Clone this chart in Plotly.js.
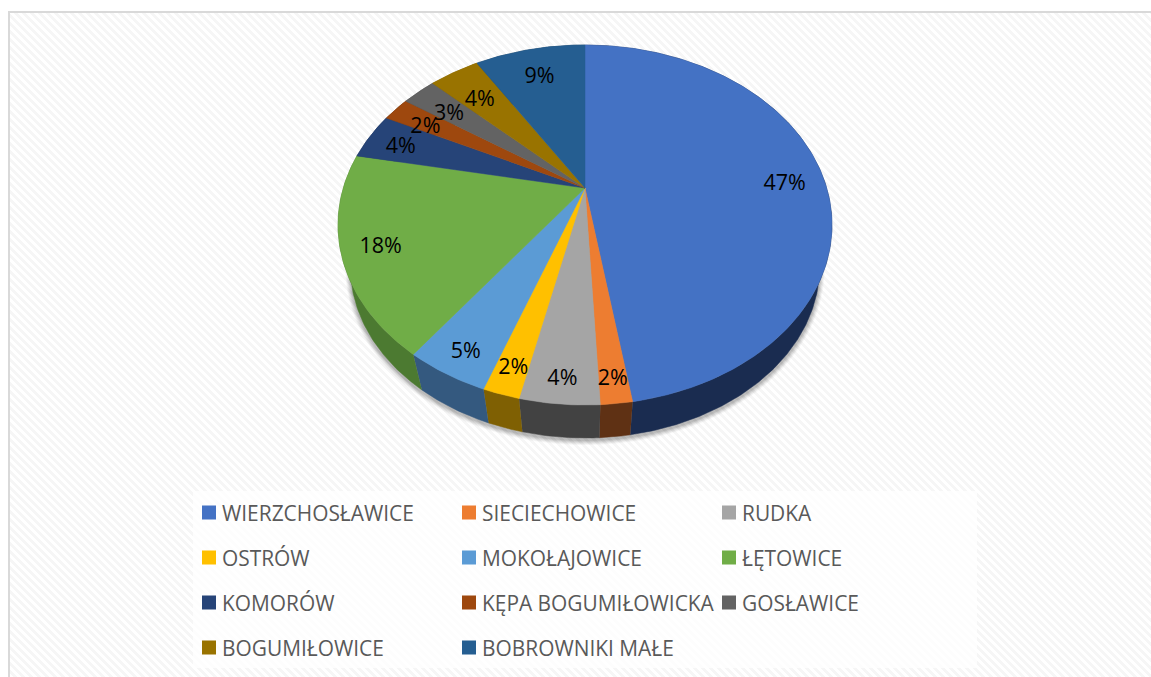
<!DOCTYPE html>
<html>
<head>
<meta charset="utf-8">
<script src="https://cdn.plot.ly/plotly-3.0.1.min.js"></script>
<style>
html,body{margin:0;padding:0;background:#fff;width:1151px;height:677px;overflow:hidden}
#hatch{position:absolute;left:9px;top:12px;width:1142px;height:665px;
background:repeating-linear-gradient(45deg,#fff 0,#fff 2.83px,#f6f6f6 2.83px,#f6f6f6 5.66px)}
#chart{position:absolute;left:0;top:0;width:1151px;height:677px}
.legendtext,.legend2text,.legend3text,.legend4text{transform:translateX(-7px)}
</style>
</head>
<body>
<div id="hatch"></div>
<div id="chart"></div>
<script>
const categories = ["WIERZCHOSŁAWICE","SIECIECHOWICE","RUDKA","OSTRÓW","MOKOŁAJOWICE","ŁĘTOWICE","KOMORÓW","KĘPA BOGUMIŁOWICKA","GOSŁAWICE","BOGUMIŁOWICE","BOBROWNIKI MAŁE"];
const shares = [47.49,1.71,4.3,2.0,4.6,18.0,4.2,2.2,2.7,4.0,8.8];
const topColors = ["#4472c4","#ed7d31","#a5a5a5","#ffc000","#5b9bd5","#70ad47","#264478","#9e480e","#636363","#997300","#255e91"];
const wallColors = ["#1a2c50","#5f3114","#424242","#7f6003","#34597f","#4c7a31","#1a2c50","#5f3114","#424242","#7f6003","#1a3c5c"];
const labelRadius = [0.84,0.9,0.9,0.88,0.88,0.85,0.85,0.83,0.8,0.78,0.8];
const labelDrop = [8,2,2,4,5,3,4,6,5,6,4];

// projection of the tilted disc
const apex = {x:585,y:188}, kx = 241.7, ky = 172.4, persp = 0.2056;
const rim = {cx:585,cy:225,scale:0.95,shift:42};
function proj(r,theta){
  const X = r*Math.sin(theta), Y = r*Math.cos(theta), d = 1+persp*Y;
  return [apex.x+kx*X/d, apex.y-ky*Y/d];
}
function lower(p){return [rim.cx+rim.scale*(p[0]-rim.cx), rim.cy+rim.shift+rim.scale*(p[1]-rim.cy)];}
function arc(a0,a1){
  const n = Math.max(4,Math.ceil((a1-a0)*90)), pts=[];
  for(let i=0;i<=n;i++) pts.push(proj(1,a0+(a1-a0)*i/n));
  return pts;
}
const total = shares.reduce((a,b)=>a+b,0);
let cum = 0;
const slices = shares.map(v=>{const a0=cum/total*2*Math.PI; cum+=v; return {a0,a1:cum/total*2*Math.PI};});

const traces = [];
// soft shadow under the disc
[[5,0.035],[4,0.05],[3,0.06],[2,0.07],[1,0.08]].forEach(([g,o])=>{
  const xs=[],ys=[];
  for(let i=0;i<=240;i++){
    const t=i/240*2*Math.PI;
    xs.push(rim.cx+(234.6+g)*Math.sin(t));
    ys.push(rim.cy+rim.shift+2+(171+g)*Math.cos(t));
  }
  traces.push({type:"scatter",mode:"none",x:xs,y:ys,fill:"toself",fillcolor:`rgba(0,0,0,${o})`,showlegend:false,hoverinfo:"skip"});
});
// side walls
slices.forEach((s,i)=>{
  const t=arc(s.a0,s.a1), b=t.map(lower).reverse(), p=t.concat(b);
  traces.push({type:"scatter",mode:"lines",x:p.map(q=>q[0]),y:p.map(q=>q[1]),fill:"toself",fillcolor:wallColors[i],
    line:{color:wallColors[i],width:0.5},showlegend:false,hoverinfo:"skip"});
});
// top faces
slices.forEach((s,i)=>{
  const p=[[apex.x,apex.y]].concat(arc(s.a0,s.a1)); p.push([apex.x,apex.y]);
  traces.push({type:"scatter",mode:"lines",name:categories[i],x:p.map(q=>q[0]),y:p.map(q=>q[1]),fill:"toself",fillcolor:topColors[i],
    line:{color:topColors[i],width:0.5},showlegend:false,hoveron:"fills",text:categories[i]+" "+Math.round(shares[i])+"%",hoverinfo:"text"});
});
// percent labels
const lab = slices.map((s,i)=>proj(labelRadius[i],(s.a0+s.a1)/2));
traces.push({type:"scatter",mode:"text",x:lab.map(q=>q[0]),y:lab.map((q,i)=>q[1]+labelDrop[i]),text:shares.map(v=>Math.round(v)+"%"),
  textposition:"middle center",textfont:{family:"Open Sans, sans-serif",size:21.5,color:"#000"},showlegend:false,hoverinfo:"skip"});
// legend entries, three per row
const legendIds=["legend","legend2","legend3","legend4"];
categories.forEach((c,i)=>{
  traces.push({type:"scatter",mode:"markers",name:c,x:[null],y:[null],
    marker:{symbol:"square",size:14,color:topColors[i]},legend:legendIds[Math.floor(i/3)],showlegend:true,hoverinfo:"skip"});
});

const W=1151,H=677;
const rowY=[513,558,603,648];
const layout={
  width:W,height:H,margin:{l:0,r:0,t:0,b:0,pad:0},
  paper_bgcolor:"rgba(0,0,0,0)",plot_bgcolor:"rgba(0,0,0,0)",
  xaxis:{range:[0,W],visible:false,fixedrange:true},
  yaxis:{range:[H,0],visible:false,fixedrange:true},
  showlegend:true,hovermode:"closest",
  shapes:[
    {type:"rect",layer:"below",x0:193,x1:977,y0:491,y1:668,fillcolor:"rgba(255,255,255,0.75)",line:{width:0}},
    {type:"rect",layer:"below",x0:9,x1:1170,y0:12,y1:700,fillcolor:"rgba(0,0,0,0)",line:{color:"#d9d9d9",width:2}}
  ]
};
rowY.forEach((y,i)=>{
  layout[legendIds[i]]={orientation:"h",x:189/W,xanchor:"left",y:1-y/H,yanchor:"middle",
    bgcolor:"rgba(0,0,0,0)",borderwidth:0,entrywidth:215,entrywidthmode:"pixels",itemwidth:30,
    font:{family:"Open Sans, sans-serif",size:20.9,color:"#595959"}};
});
Plotly.newPlot("chart",traces,layout,{displayModeBar:false,responsive:false});
</script>
</body>
</html>
